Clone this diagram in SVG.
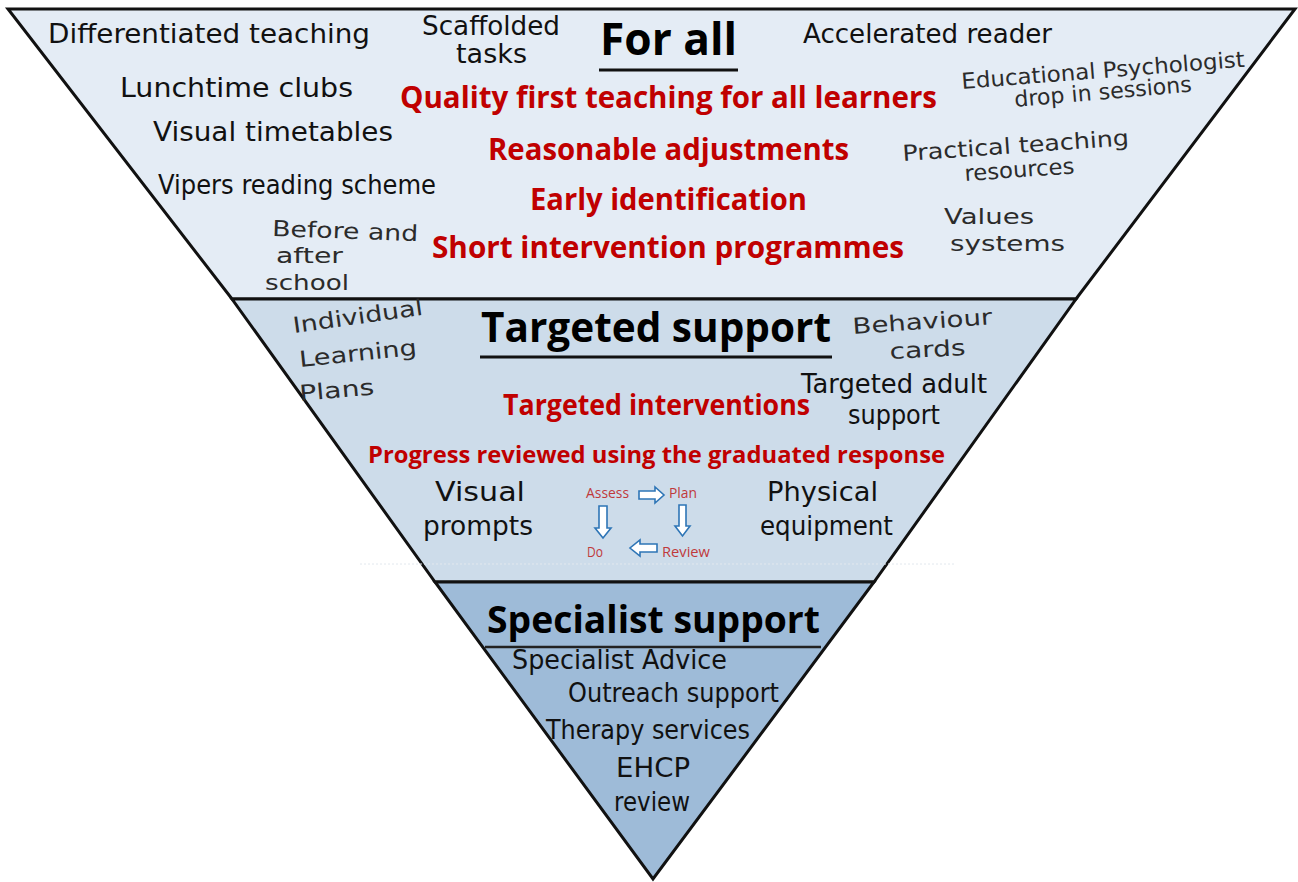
<svg xmlns="http://www.w3.org/2000/svg" width="1298" height="882" viewBox="0 0 1298 882">
<style>
.band{stroke:#111;stroke-width:3;stroke-linejoin:miter}
.hw{font-family:"DejaVu Sans",sans-serif;font-size:26px;fill:#111}
.hwg{font-family:"DejaVu Sans",sans-serif;font-size:22px;fill:#2b2b2b}
.red{font-family:"Open Sans","Noto Sans",sans-serif;font-weight:bold;fill:#c00000}
.head{font-family:"Open Sans","Noto Sans",sans-serif;font-weight:bold;fill:#000}
.sm{font-family:"Open Sans","Noto Sans",sans-serif;font-size:14px;fill:#c0393b}
.arr{fill:#fff;stroke:#2e75b6;stroke-width:1.6;stroke-linejoin:miter}
.ul{stroke:#111;stroke-width:3}
</style>
<rect width="1298" height="882" fill="#fff"/>

<g id="band-for-all">
<polygon class="band" points="8,9 1295,9 1076,299 232,299" fill="#e4ecf5"/>
</g>
<g id="band-targeted">
<polygon class="band" points="232,299 1076,299 874,582 435,582" fill="#cddcea"/>
<line x1="360" y1="564" x2="955" y2="564" stroke="#e2e8ee" stroke-width="1" stroke-dasharray="2,2"/>
</g>
<g id="band-specialist">
<polygon class="band" points="435,582 874,582 653,879" fill="#9ebbd8"/>
</g>

<g id="for-all-title">
<text class="head" x="600" y="55" font-size="45" textLength="137" lengthAdjust="spacingAndGlyphs">For all</text>
<line class="ul" x1="599" y1="70" x2="738" y2="70"/>
</g>
<g id="t-differentiated"><text class="hw" x="48" y="43" textLength="322" lengthAdjust="spacingAndGlyphs">Differentiated teaching</text></g>
<g id="t-scaffolded">
<text class="hw" x="422" y="35" font-size="19" textLength="138" lengthAdjust="spacingAndGlyphs">Scaffolded</text>
<text class="hw" x="456" y="63" font-size="19" textLength="71" lengthAdjust="spacingAndGlyphs">tasks</text>
</g>
<g id="t-accelerated"><text class="hw" x="803" y="43" textLength="249" lengthAdjust="spacingAndGlyphs">Accelerated reader</text></g>
<g id="t-edpsych">
<text class="hwg" x="962" y="89" transform="rotate(-4.5 962 89)" textLength="284" lengthAdjust="spacingAndGlyphs">Educational Psychologist</text>
<text class="hwg" x="1015" y="107" transform="rotate(-5 1015 107)" textLength="178" lengthAdjust="spacingAndGlyphs">drop in sessions</text>
</g>
<g id="t-lunchtime"><text class="hw" x="120" y="97" textLength="233" lengthAdjust="spacingAndGlyphs">Lunchtime clubs</text></g>
<g id="t-quality"><text class="red" x="400" y="108" font-size="30" textLength="537" lengthAdjust="spacingAndGlyphs">Quality first teaching for all learners</text></g>
<g id="t-visual-timetables"><text class="hw" x="153" y="141" textLength="240" lengthAdjust="spacingAndGlyphs">Visual timetables</text></g>
<g id="t-reasonable"><text class="red" x="488" y="160" font-size="30" textLength="361" lengthAdjust="spacingAndGlyphs">Reasonable adjustments</text></g>
<g id="t-practical">
<text class="hwg" x="903" y="161" transform="rotate(-4 903 161)" textLength="227" lengthAdjust="spacingAndGlyphs">Practical teaching</text>
<text class="hwg" x="965" y="181" transform="rotate(-4 965 181)" textLength="110" lengthAdjust="spacingAndGlyphs">resources</text>
</g>
<g id="t-vipers"><text class="hw" x="158" y="194" font-size="24" textLength="278" lengthAdjust="spacingAndGlyphs">Vipers reading scheme</text></g>
<g id="t-early"><text class="red" x="530" y="210" font-size="30" textLength="277" lengthAdjust="spacingAndGlyphs">Early identification</text></g>
<g id="t-values">
<text class="hwg" x="944" y="224" font-size="24" textLength="90" lengthAdjust="spacingAndGlyphs">Values</text>
<text class="hwg" x="950" y="251" font-size="24" textLength="115" lengthAdjust="spacingAndGlyphs">systems</text>
</g>
<g id="t-before">
<text class="hwg" x="272" y="236" font-size="24" transform="rotate(2 272 236)" textLength="146" lengthAdjust="spacingAndGlyphs">Before and</text>
<text class="hwg" x="276" y="263" font-size="24" textLength="67" lengthAdjust="spacingAndGlyphs">after</text>
<text class="hwg" x="265" y="290" font-size="24" textLength="84" lengthAdjust="spacingAndGlyphs">school</text>
</g>
<g id="t-short"><text class="red" x="432" y="258" font-size="30" textLength="472" lengthAdjust="spacingAndGlyphs">Short intervention programmes</text></g>

<g id="targeted-title">
<text class="head" x="481" y="342" font-size="41" textLength="350" lengthAdjust="spacingAndGlyphs">Targeted support</text>
<line class="ul" x1="480" y1="357" x2="832" y2="357"/>
</g>
<g id="t-ilp">
<text class="hwg" x="294" y="333" font-size="23" transform="rotate(-8 294 333)" textLength="131" lengthAdjust="spacingAndGlyphs">Individual</text>
<text class="hwg" x="300" y="367" font-size="23" transform="rotate(-6 300 367)" textLength="118" lengthAdjust="spacingAndGlyphs">Learning</text>
<text class="hwg" x="300" y="401" font-size="23" transform="rotate(-5 300 401)" textLength="75" lengthAdjust="spacingAndGlyphs">Plans</text>
</g>
<g id="t-behaviour">
<text class="hwg" x="853" y="334" font-size="24" transform="rotate(-4 853 334)" textLength="140" lengthAdjust="spacingAndGlyphs">Behaviour</text>
<text class="hwg" x="890" y="359" font-size="24" transform="rotate(-3 890 359)" textLength="76" lengthAdjust="spacingAndGlyphs">cards</text>
</g>
<g id="t-targeted-adult">
<text class="hw" x="801" y="393" font-size="24" textLength="186" lengthAdjust="spacingAndGlyphs">Targeted adult</text>
<text class="hw" x="848" y="424" font-size="24" textLength="92" lengthAdjust="spacingAndGlyphs">support</text>
</g>
<g id="t-targeted-int"><text class="red" x="503" y="415" font-size="28" textLength="307" lengthAdjust="spacingAndGlyphs">Targeted interventions</text></g>
<g id="t-progress"><text class="red" x="368" y="463" font-size="24" textLength="577" lengthAdjust="spacingAndGlyphs">Progress reviewed using the graduated response</text></g>
<g id="t-visual-prompts">
<text class="hw" x="435" y="501" font-size="28" textLength="90" lengthAdjust="spacingAndGlyphs">Visual</text>
<text class="hw" x="423" y="535" font-size="28" textLength="110" lengthAdjust="spacingAndGlyphs">prompts</text>
</g>
<g id="t-physical">
<text class="hw" x="767" y="501" font-size="28" textLength="111" lengthAdjust="spacingAndGlyphs">Physical</text>
<text class="hw" x="760" y="535" font-size="28" textLength="133" lengthAdjust="spacingAndGlyphs">equipment</text>
</g>
<g id="n-assess"><text class="sm" x="586" y="498" textLength="43" lengthAdjust="spacingAndGlyphs">Assess</text></g>
<g id="n-plan"><text class="sm" x="669" y="498" textLength="28" lengthAdjust="spacingAndGlyphs">Plan</text></g>
<g id="n-do"><text class="sm" x="587" y="557" textLength="16" lengthAdjust="spacingAndGlyphs">Do</text></g>
<g id="n-review"><text class="sm" x="662" y="557" textLength="48" lengthAdjust="spacingAndGlyphs">Review</text></g>

<g id="connectors">
<polygon class="arr" points="639,491 655,491 655,487 664,495 655,503 655,499 639,499"/>
<polygon class="arr" points="599,506 607,506 607,528 611,528 603,538 595,528 599,528"/>
<polygon class="arr" points="679,505 686,505 686,526 690,526 682.5,536 675,526 679,526"/>
<polygon class="arr" points="657,544 640,544 640,540 630,548 640,556 640,552 657,552"/>
</g>

<g id="specialist-title">
<text class="head" x="487" y="633" font-size="38" textLength="333" lengthAdjust="spacingAndGlyphs">Specialist support</text>
<line x1="485" y1="647" x2="821" y2="647" stroke="#222" stroke-width="2.5"/>
</g>
<g id="t-specialist-advice"><text class="hw" x="512" y="669" font-size="24" textLength="215" lengthAdjust="spacingAndGlyphs">Specialist Advice</text></g>
<g id="t-outreach"><text class="hw" x="568" y="702" font-size="24" textLength="211" lengthAdjust="spacingAndGlyphs">Outreach support</text></g>
<g id="t-therapy"><text class="hw" x="546" y="739" font-size="24" textLength="204" lengthAdjust="spacingAndGlyphs">Therapy services</text></g>
<g id="t-ehcp">
<text class="hw" x="616" y="777" font-size="24" textLength="74" lengthAdjust="spacingAndGlyphs">EHCP</text>
<text class="hw" x="614" y="811" font-size="24" textLength="76" lengthAdjust="spacingAndGlyphs">review</text>
</g>
</svg>
